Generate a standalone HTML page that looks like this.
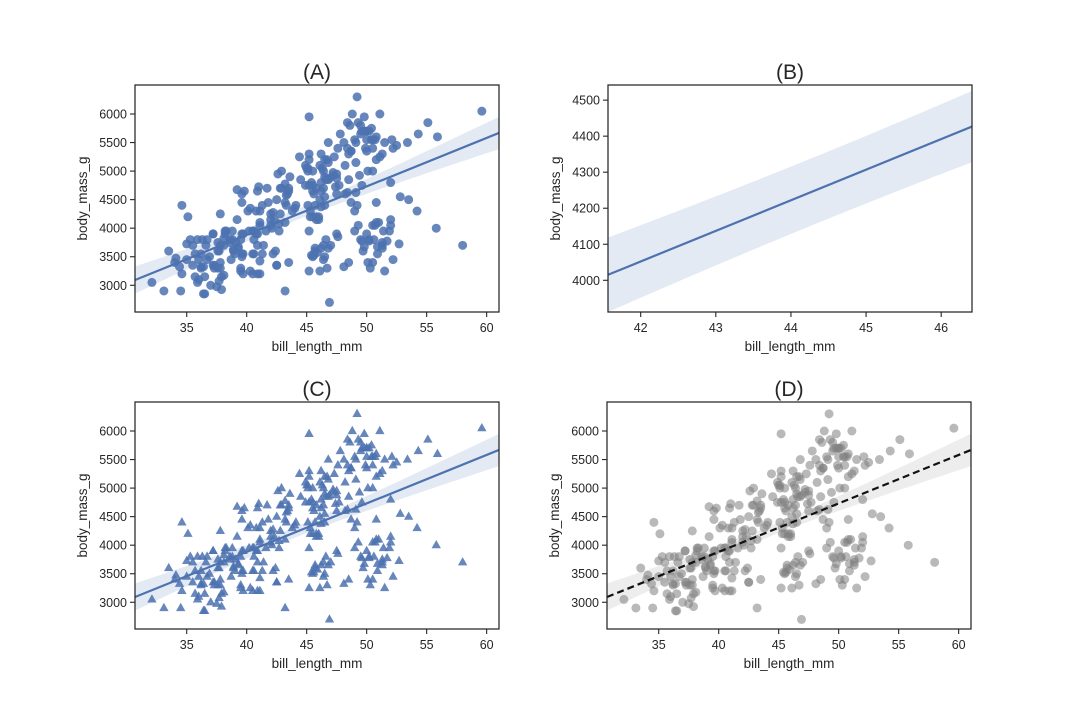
<!DOCTYPE html>
<html><head><meta charset="utf-8">
<style>
html,body{margin:0;padding:0;background:#fff;}
svg text{font-family:"Liberation Sans",Arial,sans-serif;fill:#262626;}
</style></head>
<body>
<svg id="chart" width="1080" height="720" viewBox="0 0 1080 720" xmlns="http://www.w3.org/2000/svg"></svg>
<script>
const adelieX=[39.1,39.5,40.3,36.7,39.3,38.9,39.2,34.1,42,37.8,37.8,41.1,38.6,34.6,36.6,38.7,42.5,34.4,46,37.8,37.7,35.9,38.2,38.8,35.3,40.6,40.5,37.9,40.5,39.5,37.2,39.5,40.9,36.4,39.2,38.8,42.2,37.6,39.8,36.5,40.8,36,44.1,37,39.6,41.1,37.5,36,42.3,39.6,40.1,35,42,34.5,41.4,39,40.6,36.5,37.6,35.7,41.3,37.6,41.1,36.4,41.6,35.5,41.1,35.9,41.8,33.5,39.7,39.6,45.8,35.5,42.8,40.9,37.2,36.2,42.1,34.6,42.9,36.7,35.1,37.3,41.3,36.3,36.9,38.3,38.9,35.7,41.1,34,39.6,36.2,40.8,38.1,40.3,33.1,43.2,35,41,37.7,37.8,37.9,39.7,38.6,38.2,38.1,43.2,38.1,45.6,39.7,42.2,39.6,42.7,32.1,40.2,36.2,40.6,37.2,39.3,37.3,40.5];
const adelieY=[3750,3800,3250,3450,3650,3625,4675,3475,4250,3300,3700,3200,3800,4400,3700,3450,4500,3325,4200,3400,3600,3800,3950,3800,3800,3550,3200,3150,3950,3250,3900,3300,3900,3325,4150,3950,3550,3300,4650,3150,3900,3100,4400,3000,4600,3425,2975,3450,4150,3500,4300,3450,4050,2900,3700,3550,3800,2850,3750,3150,4400,3600,4050,2850,3950,3350,4100,3050,4450,3600,3900,3550,4150,3700,4250,3700,3900,3550,4000,3200,4700,3800,4200,3350,3550,3800,3500,3950,3600,3550,4300,3400,4450,3300,4300,3700,4350,2900,4100,3725,4725,3075,4250,2925,3550,3750,3900,3175,4775,3825,4600,3200,4275,3900,4075,3050,3950,3325,3950,3350,3675,3300,3550];
const gentooX=[46.1,50,48.7,50,47.6,46.5,45.4,46.7,43.3,46.8,40.9,49,45.5,48.4,45.8,49.3,42,49.2,46.2,48.7,50.2,45.1,46.5,46.3,42.9,46.1,47.8,48.2,50,47.3,42.8,45.1,59.6,49.1,48.4,42.6,44.4,44,48.7,42.7,49.6,45.3,49.6,50.5,43.6,45.5,50.5,44.9,45.2,46.6,48.5,45.1,50.1,46.5,45,43.8,45.5,43.2,50.4,45.3,46.2,45.7,54.3,45.8,49.8,46.2,49.5,43.5,50.7,47.7,46.4,48.2,46.5,46.4,48.6,47.5,51.1,45.2,45.2,49.1,52.5,47.4,50,44.9,50.8,43.4,51.3,47.5,52.1,47.5,52.2,45.5,49.5,44.5,50.8,49.4,46.9,48.4,51.1,48.5,55.9,47.2,49.1,46.8,41.7,53.4,43.3,48.1,50.5,49.8,43.5,51.5,46.2,55.1,48.8,47.2,46.8,50.4,45.2,49.9];
const gentooY=[4500,5700,4450,5700,5400,4550,4800,5200,4400,5150,4650,5550,4650,5850,4200,5850,4150,6300,4800,5350,5700,5000,4400,5050,5000,5100,5650,4600,5550,5250,4700,5050,6050,5150,5400,4950,5250,4350,5350,3950,5700,4300,4750,5550,4900,4200,5400,5100,5300,4850,5300,4400,5000,4900,5050,4300,5000,4450,5550,4200,5300,4400,5650,4700,5700,4650,5800,4700,5550,4750,5000,5100,5200,4700,5800,4600,6000,4750,5950,4625,5450,4725,5350,4750,5600,4600,5300,4875,5550,4950,5400,4750,5650,4850,5200,4925,4875,4625,5250,4850,5600,4975,5500,5500,4700,5500,4575,5500,5000,5950,4650,5500,4375,5850,6000,4925,4850,5750,5200,5400];
const chinX=[46.5,50,51.3,45.4,52.7,45.2,46.1,51.3,46,51.3,46.6,51.7,47,52,45.9,50.5,50.3,58,46.4,49.2,42.4,48.5,43.2,50.6,46.7,52,50.5,49.5,46.4,52.8,40.9,54.2,42.5,51,49.7,47.5,47.6,52,46.9,53.5,49,46.2,50.9,45.5,50.9,50.8,50.1,49,51.5,49.8,48.1,51.4,45.7,50.7,42.5,52.2,45.2,49.3,50.2,45.6,51.9,46.8,45.7,55.8,43.5,49.6,50.8,50.2];
const chinY=[3500,3900,3650,3525,3725,3950,3250,3750,4150,3700,3800,3775,3700,4050,3575,4050,3300,3700,3450,4400,3600,3400,2900,3800,3300,4150,3400,3800,3700,4550,3200,4300,3350,4100,3600,3900,3850,4800,2700,4500,3950,3650,3550,3500,3675,4450,3400,4300,3250,3675,3325,3950,3600,4050,3350,3450,3250,4050,3800,3525,3950,3650,3650,4000,3400,3775,4100,3775];
const ticksXfull=[35,40,45,50,55,60];
const ticksYfull=[3000,3500,4000,4500,5000,5500,6000];
const ticksXzoom=[42,43,44,45,46];
const ticksYzoom=[4000,4100,4200,4300,4400,4500];
const panelTitles=["(A)","(B)","(C)","(D)"];

const NS="http://www.w3.org/2000/svg";
const svg=document.getElementById('chart');
function el(tag,attrs,parent){const e=document.createElementNS(NS,tag);for(const k in attrs)e.setAttribute(k,attrs[k]);(parent||svg).appendChild(e);return e;}

const X=adelieX.concat(gentooX,chinX), Y=adelieY.concat(gentooY,chinY);
const n=X.length;
const mx=X.reduce((a,b)=>a+b,0)/n, my=Y.reduce((a,b)=>a+b,0)/n;
let sxx=0,sxy=0;for(let i=0;i<n;i++){sxx+=(X[i]-mx)**2;sxy+=(X[i]-mx)*(Y[i]-my);}
const slope=sxy/sxx, icpt=my-slope*mx;
let sse=0;for(let i=0;i<n;i++){sse+=(Y[i]-icpt-slope*X[i])**2;}
const s2=sse/(n-2);
function fit(x){return icpt+slope*x;}
function hw(x){return 1.96*Math.sqrt(1.6*s2/n+1.4*s2*(x-mx)**2/sxx);}

const panels=[
 {L:135,R:499,T:85,B:312,x0:30.69,x1:61.03,y0:2532,y1:6508,xt:ticksXfull,yt:ticksYfull,pts:'circle',col:'#4c72b0',lc:'#4c72b0',dash:null},
 {L:608,R:972,T:85,B:312,x0:41.565,x1:46.41,y0:3912,y1:4542,xt:ticksXzoom,yt:ticksYzoom,pts:null,col:'#4c72b0',lc:'#4c72b0',dash:null},
 {L:135,R:499,T:402,B:629,x0:30.69,x1:61.03,y0:2532,y1:6508,xt:ticksXfull,yt:ticksYfull,pts:'tri',col:'#4c72b0',lc:'#4c72b0',dash:null},
 {L:607,R:971,T:402,B:629,x0:30.69,x1:61.03,y0:2532,y1:6508,xt:ticksXfull,yt:ticksYfull,pts:'circle',col:'#808080',lc:'#111',dash:'7,4'}
];
const names=['a','b','c','d'];
panels.forEach((p,pi)=>{
 const g=el('g',{});
 
 
 const sx=v=>p.L+(v-p.x0)/(p.x1-p.x0)*(p.R-p.L);
 const sy=v=>p.B-(v-p.y0)/(p.y1-p.y0)*(p.B-p.T);
 const cp=el('clipPath',{id:'clip'+pi},g);
 el('rect',{x:p.L,y:p.T,width:p.R-p.L,height:p.B-p.T},cp);
 const pg=el('g',{'clip-path':'url(#clip'+pi+')'},g);
 if(p.pts){
  const ptsG=el('g',{},pg);
  
  
  for(let i=0;i<n;i++){
   const cx=sx(X[i]),cy=sy(Y[i]);
   let m;
   if(p.pts==='circle'){m=el('circle',{cx:cx,cy:cy,r:4.5,fill:p.col,'fill-opacity':pi===3?0.55:0.85},ptsG);}
   else{const r=5.2;m=el('polygon',{points:`${cx},${cy-r} ${cx+r*0.9},${cy+r*0.6} ${cx-r*0.9},${cy+r*0.6}`,fill:p.col,'fill-opacity':0.85},ptsG);}
   
   
  }
 }
 const N=60;let up=[],lo=[];
 for(let k=0;k<=N;k++){const x=p.x0+(p.x1-p.x0)*k/N;up.push(sx(x)+','+sy(fit(x)+hw(x)));lo.unshift(sx(x)+','+sy(fit(x)-hw(x)));}
 const band=el('polygon',{points:up.concat(lo).join(' '),fill:p.lc==='#111'?'#888':p.lc,'fill-opacity':0.15},pg);
 
 
 const ln=el('line',{x1:sx(p.x0),y1:sy(fit(p.x0)),x2:sx(p.x1),y2:sy(fit(p.x1)),stroke:p.lc,'stroke-width':2.2},pg);
 if(p.dash)ln.setAttribute('stroke-dasharray',p.dash);
 
 
 const fr=el('rect',{x:p.L,y:p.T,width:p.R-p.L,height:p.B-p.T,fill:'none',stroke:'#262626','stroke-width':1.25},g);
 
 
 p.xt.forEach(t=>{const x=sx(t);el('line',{x1:x,x2:x,y1:p.B,y2:p.B+5,stroke:'#262626','stroke-width':1.1},g);
  const tx=el('text',{x:x,y:p.B+20,'font-size':12.5,'text-anchor':'middle'},g);tx.textContent=t;
  });
 p.yt.forEach(t=>{const y=sy(t);el('line',{x1:p.L-5,x2:p.L,y1:y,y2:y,stroke:'#262626','stroke-width':1.1},g);
  const tx=el('text',{x:p.L-8,y:y+4.5,'font-size':12.5,'text-anchor':'end'},g);tx.textContent=t;
  });
 const xl=el('text',{x:(p.L+p.R)/2,y:p.B+39,'font-size':13.5,'text-anchor':'middle'},g);xl.textContent='bill_length_mm';
 
 const yx=p.L-48,yy=(p.T+p.B)/2;
 const yl=el('text',{x:yx,y:yy,'font-size':13.5,'text-anchor':'middle',transform:`rotate(-90 ${yx} ${yy})`},g);yl.textContent='body_mass_g';
 
 const tt=el('text',{x:(p.L+p.R)/2,y:p.T-6,'font-size':21,'text-anchor':'middle'},g);tt.textContent=panelTitles[pi];
 
});
</script>
</body></html>
